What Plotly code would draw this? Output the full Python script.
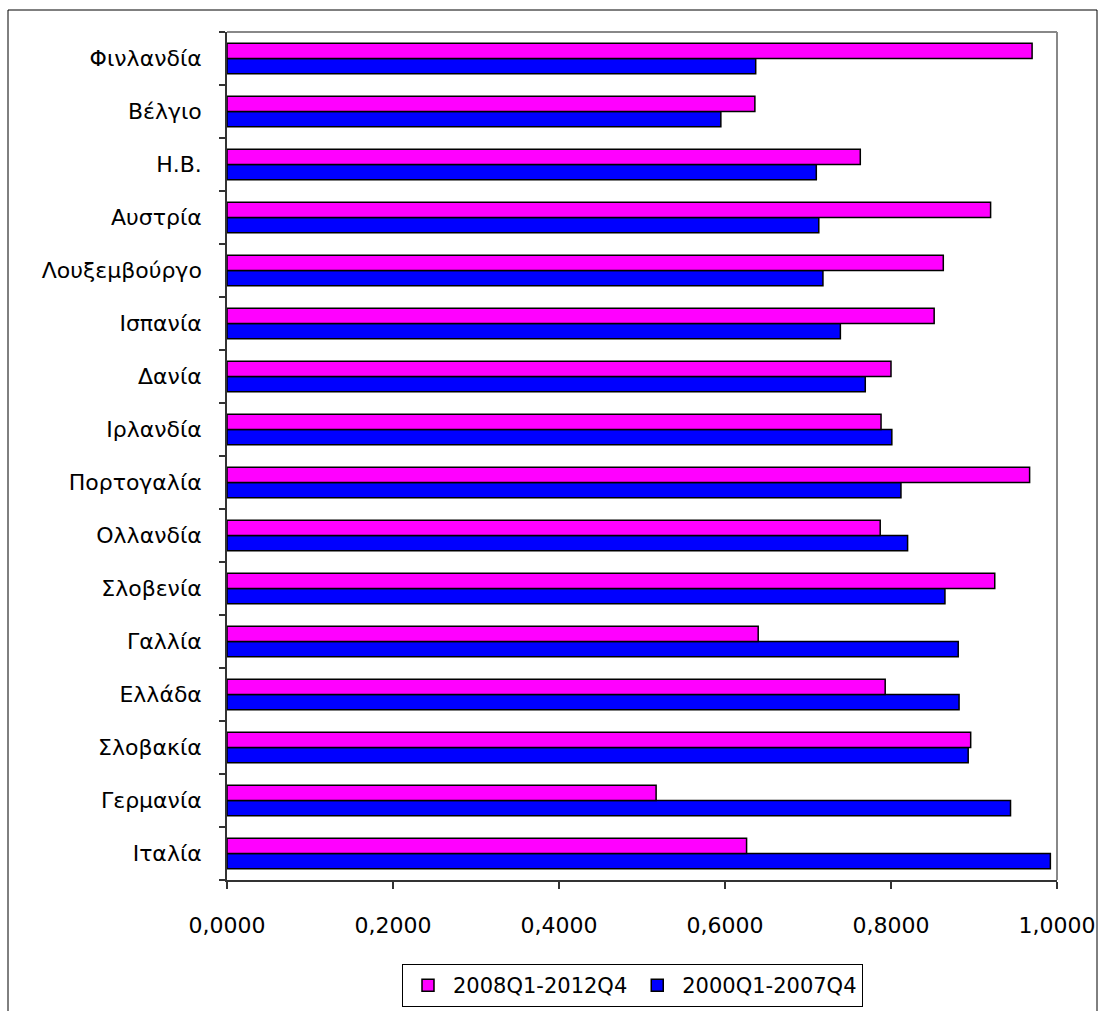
import plotly.graph_objects as go

# Countries listed bottom-to-top as they appear on the category axis
countries = ["Ιταλία", "Γερμανία", "Σλοβακία", "Ελλάδα", "Γαλλία", "Σλοβενία",
             "Ολλανδία", "Πορτογαλία", "Ιρλανδία", "Δανία", "Ισπανία",
             "Λουξεμβούργο", "Αυστρία", "Η.Β.", "Βέλγιο", "Φινλανδία"]

period_2000_2007 = [0.992, 0.944, 0.893, 0.882, 0.881, 0.865,
                    0.820, 0.812, 0.801, 0.769, 0.739,
                    0.718, 0.713, 0.710, 0.595, 0.637]

period_2008_2012 = [0.626, 0.517, 0.896, 0.793, 0.640, 0.925,
                    0.787, 0.967, 0.788, 0.800, 0.852,
                    0.863, 0.920, 0.763, 0.636, 0.970]

x_ticks = [0, 0.2, 0.4, 0.6, 0.8, 1.0]

FONT = "DejaVu Sans, Liberation Sans, Arial, sans-serif"
W, H = 1105, 1011
L, R, T, B = 227, 48, 32, 131
pw, ph = W - L - R, H - T - B


def px_x(p):
    return (p - L) / pw


def px_y(p):
    return (H - B - p) / ph


fig = go.Figure()
fig.add_trace(go.Bar(
    y=countries, x=period_2000_2007, orientation="h",
    name="2000Q1-2007Q4", legendrank=2,
    marker=dict(color="#0000FF", line=dict(color="black", width=1.5)),
))
fig.add_trace(go.Bar(
    y=countries, x=period_2008_2012, orientation="h",
    name="2008Q1-2012Q4", legendrank=1,
    marker=dict(color="#FF00FF", line=dict(color="black", width=1.5)),
))

fig.update_layout(
    width=W, height=H,
    margin=dict(l=L, r=R, t=T, b=B, autoexpand=False),
    paper_bgcolor="white", plot_bgcolor="white",
    barmode="group", bargap=0.42, bargroupgap=0,
    separators=",.",
    font=dict(family=FONT, size=20, color="black"),
    showlegend=True,
    legend=dict(
        orientation="h", x=px_x(402), y=px_y(964),
        xanchor="left", yanchor="top",
        bordercolor="black", borderwidth=1, bgcolor="white",
        font=dict(family=FONT, size=21, color="black"),
        itemwidth=40, tracegroupgap=0,
    ),
    xaxis=dict(
        range=[0, 1.0], tickvals=x_ticks, tickformat=".4f",
        showgrid=False, zeroline=False,
        showline=True, linecolor="#333333", linewidth=1.5,
        ticks="outside", ticklen=7, tickcolor="#333333", tickwidth=1.5,
        ticklabelstandoff=18,
        tickfont=dict(family=FONT, size=22, color="black"),
    ),
    yaxis=dict(
        showgrid=False, zeroline=False,
        showline=True, linecolor="#333333", linewidth=1.5,
        ticks="outside", ticklen=6, tickcolor="#333333", tickwidth=1.5,
        tickson="boundaries", ticklabelstandoff=19,
        tickfont=dict(family=FONT, size=22, color="black"),
    ),
    shapes=[
        # grey frame of the plotting area (top and right sides)
        dict(type="line", xref="paper", yref="paper", x0=0, x1=1, y0=1, y1=1,
             line=dict(color="#888888", width=2), layer="below"),
        dict(type="line", xref="paper", yref="paper", x0=1, x1=1, y0=0, y1=1,
             line=dict(color="#888888", width=2), layer="below"),
        # outer chart border
        dict(type="rect", xref="paper", yref="paper",
             x0=px_x(8), x1=px_x(1097), y0=px_y(1020), y1=px_y(10),
             line=dict(color="black", width=1), layer="below"),
    ],
)

fig.write_html("out.html")
